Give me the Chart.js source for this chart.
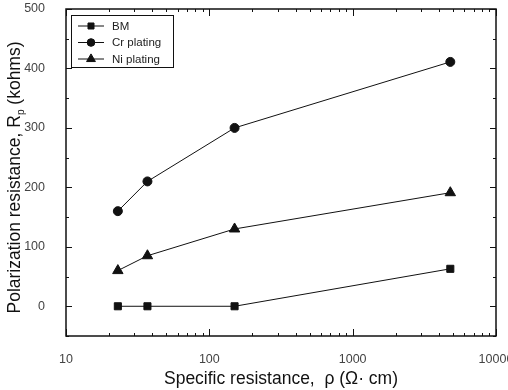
<!DOCTYPE html>
<html lang="en">
<head>
<meta charset="UTF-8">
<title>Polarization resistance vs specific resistance</title>
<script src="https://cdn.jsdelivr.net/npm/chart.js"></script>
<style>
  html, body { margin: 0; padding: 0; background: #fff; }
  #wrap { width: 508px; height: 390px; position: relative; }
</style>
</head>
<body>
<div id="wrap"><canvas id="rpChart" width="508" height="390"></canvas></div>
<script>
// specific resistance (ohm·cm) of each sample
const rho = [23, 37, 150, 4800];
// polarization resistance (kohms)
const bm = [0, 0, 0, 63];
const crPlating = [160, 210, 300, 411];
const niPlating = [60, 85, 130, 191];
const seriesNames = ['BM', 'Cr plating', 'Ni plating'];
const xTickLabels = [10, 100, 1000, 10000];
const yTickLabels = [0, 100, 200, 300, 400, 500];

const FONT = 'Arial, "Liberation Sans", sans-serif';
const TITLE_SIZE = 17.5;

function pts(ys) {
  return rho.map((x, i) => ({ x: x, y: ys[i] }));
}

// frame, inward ticks, legend and y-title
const decorations = {
  id: 'decorations',
  afterDraw(chart) {
    const ctx = chart.ctx;
    const a = chart.chartArea;
    const xs = chart.scales.x, ys = chart.scales.y;
    ctx.save();
    ctx.strokeStyle = '#111';
    ctx.lineWidth = 1.5;
    ctx.strokeRect(a.left, a.top, a.right - a.left, a.bottom - a.top);

    ctx.lineWidth = 1;
    ctx.beginPath();
    // y ticks, majors every 100, minors every 50
    for (let v = -50; v <= 500; v += 50) {
      const py = Math.round(ys.getPixelForValue(v)) + 0.5;
      const len = v % 100 === 0 ? 6 : 3;
      ctx.moveTo(a.left, py); ctx.lineTo(a.left + len, py);
      ctx.moveTo(a.right, py); ctx.lineTo(a.right - len, py);
    }
    // x ticks on log scale
    for (let d = 10; d <= 10000; d *= 10) {
      for (let m = 1; m <= 9; m++) {
        const v = d * m;
        if (v > 10000) break;
        const px = Math.round(xs.getPixelForValue(v)) + 0.5;
        const len = m === 1 ? 7 : 3;
        ctx.moveTo(px, a.bottom); ctx.lineTo(px, a.bottom - len);
        ctx.moveTo(px, a.top); ctx.lineTo(px, a.top + len);
      }
    }
    ctx.stroke();

    // legend
    const lx = a.left + 5, ly = a.top + 6, lw = 102, lh = 52;
    ctx.lineWidth = 1;
    ctx.strokeStyle = '#111';
    ctx.strokeRect(lx + 0.5, ly + 0.5, lw, lh);
    ctx.font = '11.5px ' + FONT;
    ctx.textBaseline = 'middle';
    chart.data.datasets.forEach((ds, i) => {
      const cy = ly + 11 + i * 16.5;
      ctx.strokeStyle = '#111';
      ctx.beginPath();
      ctx.moveTo(lx + 7, cy); ctx.lineTo(lx + 33, cy);
      ctx.stroke();
      ctx.fillStyle = '#111';
      Chart.helpers.drawPoint(ctx, {
        pointStyle: ds.pointStyle, radius: ds.pointRadius * 0.85,
        borderWidth: 1, rotation: 0
      }, lx + 20, cy);
      ctx.fillStyle = '#222';
      ctx.fillText(ds.label, lx + 41, cy + 0.5);
    });

    // y axis title with subscript p
    ctx.save();
    ctx.translate(15, (a.top + a.bottom) / 2 + 5);
    ctx.rotate(-Math.PI / 2);
    ctx.fillStyle = '#111';
    ctx.textBaseline = 'middle';
    const main = 'Polarization resistance, R';
    const tail = ' (kohms)';
    ctx.font = TITLE_SIZE + 'px ' + FONT;
    const w1 = ctx.measureText(main).width;
    const w3 = ctx.measureText(tail).width;
    ctx.font = '10px ' + FONT;
    const w2 = ctx.measureText('p').width;
    let x0 = -(w1 + w2 + w3) / 2;
    ctx.font = TITLE_SIZE + 'px ' + FONT;
    ctx.fillText(main, x0, 0);
    ctx.font = '10px ' + FONT;
    ctx.fillText('p', x0 + w1, 6);
    ctx.font = TITLE_SIZE + 'px ' + FONT;
    ctx.fillText(tail, x0 + w1 + w2, 0);
    ctx.restore();
    ctx.restore();
  }
};

const lineStyle = {
  borderColor: '#111',
  backgroundColor: '#111',
  borderWidth: 1,
  pointBorderWidth: 1,
  pointBorderColor: '#111',
  pointBackgroundColor: '#111',
  tension: 0
};

new Chart(document.getElementById('rpChart'), {
  type: 'line',
  data: {
    datasets: [
      Object.assign({ label: seriesNames[0], data: pts(bm), pointStyle: 'rect', pointRadius: 5 }, lineStyle),
      Object.assign({ label: seriesNames[1], data: pts(crPlating), pointStyle: 'circle', pointRadius: 4.5 }, lineStyle),
      Object.assign({ label: seriesNames[2], data: pts(niPlating), pointStyle: 'triangle', pointRadius: 6 }, lineStyle)
    ]
  },
  plugins: [decorations],
  options: {
    responsive: false,
    animation: false,
    layout: { padding: { top: 9, right: 12, left: 0, bottom: 0 } },
    plugins: {
      legend: { display: false },
      tooltip: { enabled: false }
    },
    scales: {
      x: {
        type: 'logarithmic',
        min: 10,
        max: 10000,
        grid: { display: false },
        border: { display: false },
        afterBuildTicks(scale) {
          scale.ticks = xTickLabels.map(v => ({ value: v }));
        },
        ticks: {
          autoSkip: false,
          maxRotation: 0,
          padding: 8,
          color: '#444',
          font: { family: FONT, size: 12.5 },
          callback: v => String(v)
        },
        title: {
          display: true,
          text: 'Specific resistance,  \u03c1 (\u03a9\u00b7 cm)',
          color: '#111',
          font: { family: FONT, size: TITLE_SIZE },
          padding: { top: 6, bottom: 0 }
        },
        afterFit(scale) {
          scale.height = 54;
          scale.paddingLeft = 0;
          scale.paddingRight = 0;
        }
      },
      y: {
        min: -50,
        max: 500,
        grid: { display: false },
        border: { display: false },
        afterBuildTicks(scale) {
          scale.ticks = yTickLabels.map(v => ({ value: v }));
        },
        ticks: {
          padding: 13,
          color: '#444',
          font: { family: FONT, size: 12.5 },
          callback: v => String(v)
        },
        afterFit(scale) {
          scale.width = 66;
          scale.paddingTop = 0;
          scale.paddingBottom = 0;
        }
      }
    }
  }
});
</script>
</body>
</html>
